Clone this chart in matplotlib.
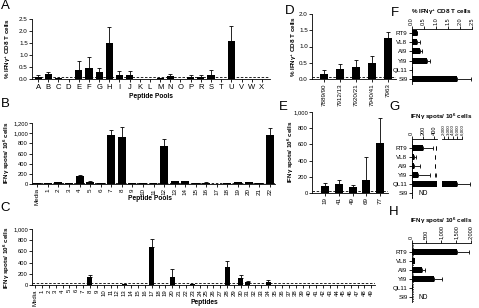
import matplotlib
matplotlib.use("Agg")
import matplotlib.pyplot as plt
import numpy as np
from matplotlib.ticker import StrMethodFormatter

plt.rcParams['font.family'] = ['Liberation Sans', 'DejaVu Sans']
plt.rcParams['mathtext.fontset'] = 'custom'
plt.rcParams['mathtext.rm'] = 'Liberation Sans'
plt.rcParams['mathtext.bf'] = 'Liberation Sans:bold'

# ---------------- data ----------------
a_cats = list("ABCDEFGHIJKLMNOPRSTUVWX")
a_vals = [0.10, 0.20, 0.03, 0.02, 0.38, 0.45, 0.29, 1.52, 0.18, 0.16, 0.02, 0.02, 0.03,
          0.12, 0.02, 0.08, 0.08, 0.18, 0.02, 1.57, 0.02, 0.02, 0.02]
a_errs = [0.07, 0.10, 0.00, 0.00, 0.37, 0.47, 0.16, 0.65, 0.15, 0.17, 0.00, 0.00, 0.00,
          0.10, 0.00, 0.10, 0.08, 0.20, 0.00, 0.63, 0.00, 0.00, 0.00]
a_bg = 0.07

b_cats = ["Media"] + [str(i) for i in range(1, 23)]
b_vals = [10, 15, 30, 10, 160, 40, 10, 960, 920, 15, 15, 10, 740, 50, 60, 10, 20, 5, 10, 30, 30, 10, 960]
b_errs = [0, 0, 15, 0, 20, 20, 0, 100, 210, 0, 0, 0, 140, 10, 0, 0, 20, 0, 0, 10, 0, 0, 140]
b_bg = 25

c_cats = ["Media"] + [str(i) for i in range(1, 50)]
c_vals = [0] * 50
c_errs = [0] * 50
for k, v, e in [(8, 140, 40), (13, 15, 0), (17, 680, 140), (20, 150, 130), (23, 20, 0),
                (28, 320, 110), (30, 120, 50), (31, 50, 20), (34, 60, 30)]:
    c_vals[k] = v
    c_errs[k] = e
c_bg = 30

d_cats = ["7889/90", "7912/13", "7920/21", "7940/41", "7963"]
d_vals = [0.15, 0.30, 0.38, 0.50, 1.25]
d_errs = [0.12, 0.15, 0.22, 0.22, 0.20]
d_bg = 0.05

e_cats = ["19", "41", "49", "69", "77"]
e_vals = [85, 115, 75, 160, 620]
e_errs = [35, 50, 20, 280, 300]
e_bg = 30

hb_cats = ["RT9", "VL8", "AI9", "YI9", "QL11", "SI9"]
f_vals = [0.21, 0.21, 0.35, 0.62, 0.07, 1.90]
f_errs = [0.03, 0.15, 0.07, 0.16, 0.00, 0.55]
g_vals = [200, 40, 45, 120, 5000, np.nan]
g_errs = [180, 45, 110, 210, 2800, np.nan]
h_vals = [1550, 100, 360, 740, 30, np.nan]
h_errs = [400, 0, 90, 280, 0, np.nan]

# ---------------- layout helpers ----------------
W, H = 479, 308
fig = plt.figure(figsize=(W / 100, H / 100), dpi=100)

def box(l, t, r, b):
    return [l / W, 1 - b / H, (r - l) / W, (b - t) / H]

def ftext(x, y, s, **kw):
    fig.text(x / W, 1 - y / H, s, **kw)

LW = 0.6
TICK = 4.5
YL = 4.5
ylab_pct = '% IFNγ$^{\\mathbf{+}}$ CD8 T cells'
ylab_spots = 'IFNγ spots/ 10$^{\\mathbf{6}}$ cells'

def style_v(ax):
    for s in ['top', 'right']:
        ax.spines[s].set_visible(False)
    for s in ['left', 'bottom']:
        ax.spines[s].set_linewidth(LW)
    ax.tick_params(axis='both', width=LW, length=2, labelsize=TICK, pad=1)

def vbars(ax, vals, errs, width, bg):
    x = np.arange(len(vals))
    ax.bar(x, vals, width=width, color='black', zorder=2)
    errs = np.asarray(errs, float)
    m = errs > 0
    ax.errorbar(x[m], np.asarray(vals)[m], yerr=[np.zeros(m.sum()), errs[m]], fmt='none',
                ecolor='black', elinewidth=LW, capsize=1.5, capthick=LW, zorder=3)
    ax.axhline(bg, color='black', lw=0.6, ls=(0, (3, 2)), zorder=1)

# ---------------- A ----------------
axA = fig.add_axes(box(32, 19, 270, 79))
vbars(axA, a_vals, a_errs, 0.7, a_bg)
axA.set_xlim(-0.6, 22.8)
axA.set_ylim(0, 2.5)
axA.set_yticks(np.arange(0, 2.51, 0.5))
axA.yaxis.set_major_formatter(StrMethodFormatter('{x:.1f}'))
axA.set_xticks(np.arange(len(a_cats)))
axA.set_xticklabels(a_cats)
style_v(axA)
axA.tick_params(axis='x', labelsize=5.5, pad=1.5)
ftext(151, 97, 'Peptide Pools', ha='center', va='center', fontsize=4.8, fontweight='bold')
ftext(8, 49, ylab_pct, rotation=90, ha='center', va='center', fontsize=YL, fontweight='bold')

# ---------------- B ----------------
axB = fig.add_axes(box(32, 123, 275, 184))
vbars(axB, b_vals, b_errs, 0.75, b_bg)
axB.set_xlim(-0.5, 22.5)
axB.set_ylim(0, 1200)
axB.set_yticks(np.arange(0, 1201, 200))
axB.yaxis.set_major_formatter(StrMethodFormatter('{x:,.0f}'))
axB.set_xticks(np.arange(len(b_cats)))
axB.set_xticklabels(b_cats, rotation=90)
style_v(axB)
axB.tick_params(axis='y', labelsize=4.2)
ftext(150, 199, 'Peptide Pools', ha='center', va='center', fontsize=4.8, fontweight='bold')
ftext(7, 153, ylab_spots, rotation=90, ha='center', va='center', fontsize=YL, fontweight='bold')

# ---------------- C ----------------
axC = fig.add_axes(box(32, 229, 375, 285))
vbars(axC, c_vals, c_errs, 0.73, c_bg)
axC.set_xlim(-0.45, 49.55)
axC.set_ylim(0, 1000)
axC.set_yticks(np.arange(0, 1001, 200))
axC.yaxis.set_major_formatter(StrMethodFormatter('{x:,.0f}'))
axC.set_xticks(np.arange(len(c_cats)))
axC.set_xticklabels(c_cats, rotation=90)
style_v(axC)
axC.tick_params(axis='x', labelsize=4.3)
axC.tick_params(axis='y', labelsize=4.2)
ftext(204, 303, 'Peptides', ha='center', va='center', fontsize=4.8, fontweight='bold')
ftext(7, 258, ylab_spots, rotation=90, ha='center', va='center', fontsize=YL, fontweight='bold')

# ---------------- D ----------------
axD = fig.add_axes(box(312, 14, 396, 79))
vbars(axD, d_vals, d_errs, 0.55, d_bg)
axD.set_xlim(-0.75, 4.5)
axD.set_ylim(0, 2.0)
axD.set_yticks(np.arange(0, 2.01, 0.5))
axD.yaxis.set_major_formatter(StrMethodFormatter('{x:.1f}'))
axD.set_xticks(np.arange(len(d_cats)))
axD.set_xticklabels(d_cats, rotation=90)
style_v(axD)
ftext(294, 47, ylab_pct, rotation=90, ha='center', va='center', fontsize=YL, fontweight='bold')

# ---------------- E ----------------
axE = fig.add_axes(box(312, 112, 388, 193))
vbars(axE, e_vals, e_errs, 0.6, e_bg)
axE.set_xlim(-0.98, 4.6)
axE.set_ylim(0, 1000)
axE.set_yticks(np.arange(0, 1001, 200))
axE.yaxis.set_major_formatter(StrMethodFormatter('{x:,.0f}'))
axE.set_xticks(np.arange(len(e_cats)))
axE.set_xticklabels(e_cats, rotation=90)
style_v(axE)
axE.tick_params(axis='y', labelsize=4.2)
ftext(291, 152, ylab_spots, rotation=90, ha='center', va='center', fontsize=YL, fontweight='bold')

# ---------------- horizontal panels ----------------
HT = 4.0

def style_h(ax, left=True):
    for s in ['bottom', 'right']:
        ax.spines[s].set_visible(False)
    ax.spines['top'].set_linewidth(LW)
    ax.spines['left'].set_linewidth(LW)
    if not left:
        ax.spines['left'].set_visible(False)
    ax.xaxis.tick_top()
    ax.tick_params(axis='both', width=LW, length=2, labelsize=HT, pad=1)
    ax.tick_params(axis='x', labelrotation=90)

def hbars(ax, vals, errs, height=0.65):
    y = np.arange(len(vals))
    v = np.asarray(vals, float)
    e = np.asarray(errs, float)
    m = ~np.isnan(v)
    ax.barh(y[m], v[m], height=height, color='black', zorder=2)
    me = m & (np.nan_to_num(e) > 0)
    ax.errorbar(v[me], y[me], xerr=[np.zeros(me.sum()), e[me]], fmt='none', ecolor='black',
                elinewidth=LW, capsize=1.2, capthick=LW, zorder=3, clip_on=False)

# F
axF = fig.add_axes(box(411.7, 29, 471.7, 84))
hbars(axF, f_vals, f_errs)
axF.set_xlim(0, 2.5)
axF.set_ylim(5.55, -0.45)
axF.set_xticks(np.arange(0, 2.51, 0.5))
axF.xaxis.set_major_formatter(StrMethodFormatter('{x:.1f}'))
axF.set_yticks(np.arange(len(hb_cats)))
axF.set_yticklabels(hb_cats)
style_h(axF)
axF.tick_params(axis='y', labelsize=4.5)
ftext(441, 12, ylab_pct, ha='center', va='center', fontsize=YL, fontweight='bold')

# G (broken axis)
axG1 = fig.add_axes(box(411.7, 139, 437.3, 198))
axG2 = fig.add_axes(box(441.5, 139, 462, 198))
for ax in (axG1, axG2):
    hbars(ax, g_vals, g_errs)
    ax.set_ylim(5.55, -1.0)
axG1.set_xlim(0, 455)
axG1.set_xticks([0, 200, 400])
axG2.set_xlim(1500, 6000)
axG2.set_xticks([2000, 3000, 4000, 5000, 6000])
axG2.xaxis.set_major_formatter(StrMethodFormatter('{x:,.0f}'))
axG1.set_yticks(np.arange(len(hb_cats)))
axG1.set_yticklabels(hb_cats)
style_h(axG1)
style_h(axG2, left=False)
axG1.tick_params(axis='y', labelsize=4.5)
axG2.tick_params(axis='x', labelsize=3.2, pad=0.8)
axG2.set_yticks([])
axG1.axvline(12, color='black', lw=0.5, ls=(0, (2, 1.5)), zorder=1)
axG1.text(116, 5, 'ND', fontsize=4.8, va='center', ha='left')
ftext(441, 117, ylab_spots, ha='center', va='center', fontsize=YL, fontweight='bold')

# H
axH = fig.add_axes(box(411.7, 243, 470.7, 302))
hbars(axH, h_vals, h_errs)
axH.set_xlim(0, 2000)
axH.set_ylim(5.55, -1.0)
axH.set_xticks(np.arange(0, 2001, 500))
axH.xaxis.set_major_formatter(StrMethodFormatter('{x:,.0f}'))
axH.set_yticks(np.arange(len(hb_cats)))
axH.set_yticklabels(hb_cats)
style_h(axH)
axH.tick_params(axis='y', labelsize=4.5)
axH.axvline(50, color='black', lw=0.5, ls=(0, (2, 1.5)), zorder=1)
axH.text(225, 5, 'ND', fontsize=4.8, va='center', ha='left')
ftext(441, 221, ylab_spots, ha='center', va='center', fontsize=YL, fontweight='bold')

# panel letters
for L, x, y in [('A', 5, 6), ('B', 5, 104), ('C', 5, 208), ('D', 290, 11), ('E', 283, 107),
                ('F', 395, 13), ('G', 394, 107), ('H', 394, 212)]:
    ftext(x, y, L, ha='center', va='center', fontsize=9.5)

fig.savefig('out.png', dpi=100)
